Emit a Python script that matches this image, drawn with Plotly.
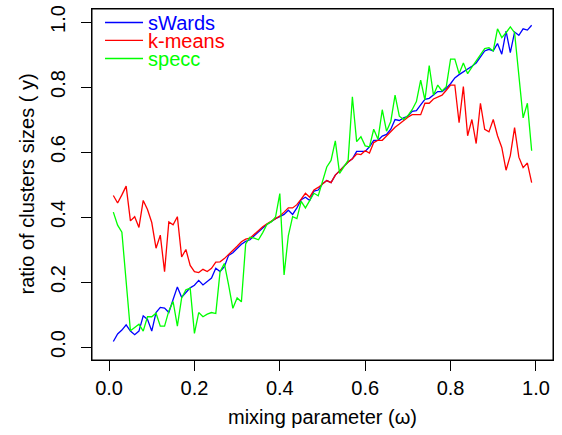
import plotly.graph_objects as go

omega = [i / 100 for i in range(1, 100)]

swards = [0.017, 0.040, 0.052, 0.068, 0.049, 0.038, 0.049, 0.096, 0.085, 0.049,
          0.106, 0.122, 0.120, 0.106, 0.146, 0.185, 0.153, 0.166, 0.182, 0.190,
          0.205, 0.191, 0.202, 0.212, 0.242, 0.232, 0.247, 0.282, 0.290, 0.303,
          0.316, 0.325, 0.330, 0.342, 0.355, 0.366, 0.377, 0.387, 0.395, 0.401,
          0.408, 0.421, 0.408, 0.428, 0.453, 0.461, 0.451, 0.480, 0.483, 0.502,
          0.512, 0.506, 0.529, 0.542, 0.556, 0.569, 0.579, 0.602, 0.602, 0.602,
          0.616, 0.636, 0.636, 0.649, 0.654, 0.670, 0.700, 0.697, 0.705, 0.710,
          0.725, 0.727, 0.745, 0.762, 0.765, 0.777, 0.786, 0.786, 0.796, 0.810,
          0.828, 0.838, 0.846, 0.856, 0.864, 0.874, 0.891, 0.911, 0.916, 0.911,
          0.934, 0.901, 0.972, 0.906, 0.969, 0.959, 0.979, 0.975, 0.990]

kmeans = [0.466, 0.443, 0.468, 0.495, 0.388, 0.401, 0.368, 0.451, 0.423, 0.383,
          0.304, 0.344, 0.232, 0.385, 0.376, 0.401, 0.277, 0.300, 0.251, 0.232,
          0.229, 0.239, 0.232, 0.242, 0.261, 0.262, 0.272, 0.284, 0.297, 0.310,
          0.324, 0.332, 0.335, 0.347, 0.360, 0.370, 0.379, 0.387, 0.397, 0.403,
          0.415, 0.428, 0.428, 0.438, 0.455, 0.473, 0.461, 0.483, 0.491, 0.503,
          0.512, 0.506, 0.529, 0.542, 0.556, 0.569, 0.579, 0.594, 0.592, 0.604,
          0.597, 0.629, 0.636, 0.636, 0.649, 0.664, 0.676, 0.686, 0.697, 0.707,
          0.715, 0.715, 0.715, 0.750, 0.750, 0.763, 0.770, 0.775, 0.790, 0.806,
          0.806, 0.690, 0.801, 0.650, 0.700, 0.626, 0.750, 0.670, 0.662, 0.700,
          0.650, 0.614, 0.544, 0.589, 0.675, 0.584, 0.552, 0.566, 0.506]

specc = [0.415, 0.375, 0.353, 0.200, 0.050, 0.060, 0.070, 0.049, 0.093, 0.093,
         0.104, 0.064, 0.064, 0.111, 0.140, 0.064, 0.151, 0.176, 0.181, 0.042,
         0.106, 0.093, 0.101, 0.106, 0.103, 0.232, 0.257, 0.191, 0.119, 0.151,
         0.139, 0.317, 0.338, 0.335, 0.330, 0.352, 0.378, 0.385, 0.400, 0.472,
         0.222, 0.343, 0.401, 0.395, 0.448, 0.428, 0.451, 0.473, 0.465, 0.506,
         0.554, 0.574, 0.634, 0.534, 0.554, 0.574, 0.770, 0.632, 0.647, 0.619,
         0.616, 0.670, 0.639, 0.730, 0.664, 0.694, 0.775, 0.710, 0.700, 0.712,
         0.730, 0.755, 0.821, 0.760, 0.866, 0.775, 0.806, 0.788, 0.801, 0.886,
         0.886, 0.841, 0.874, 0.841, 0.861, 0.881, 0.901, 0.918, 0.921, 0.911,
         0.979, 0.952, 0.967, 0.985, 0.967, 0.846, 0.705, 0.750, 0.604]

tick_vals = [0.0, 0.2, 0.4, 0.6, 0.8, 1.0]
tick_text = ["0.0", "0.2", "0.4", "0.6", "0.8", "1.0"]

FONT = "Liberation Sans, Arial, Helvetica, sans-serif"
FS = 20

series = [("sWards", swards, "#0000FF", "legend"),
          ("k-means", kmeans, "#FF0000", "legend2"),
          ("specc", specc, "#00FF00", "legend3")]

fig = go.Figure()
for name, vals, col, lg in series:
    fig.add_trace(go.Scatter(x=omega, y=vals, mode="lines", name=name,
                             line=dict(color=col, width=1.3), legend=lg))

legend_y = [0.9616, 0.9104, 0.859]
leg_cfg = {}
for key, (_, _, col, _), ly in zip(["legend", "legend2", "legend3"], series, legend_y):
    leg_cfg[key] = dict(x=0.0174, xanchor="left", yanchor="middle", y=ly,
                        bgcolor="rgba(0,0,0,0)", borderwidth=0, itemwidth=38,
                        font=dict(family=FONT, size=FS, color=col))

axis_common = dict(showgrid=False, zeroline=False, showline=True, mirror=True,
                   linecolor="black", linewidth=1, ticks="outside", ticklen=10,
                   tickcolor="black", tickwidth=1, range=[-0.04, 1.04],
                   tickvals=tick_vals, ticktext=tick_text, layer="above traces",
                   tickfont=dict(family=FONT, size=FS, color="black"))

fig.update_layout(
    width=562, height=435,
    margin=dict(l=92, r=9, t=3, b=75),
    paper_bgcolor="white", plot_bgcolor="white",
    xaxis=dict(**axis_common),
    yaxis=dict(**axis_common, tickangle=-90, ticklabelstandoff=8),
    showlegend=True,
    **leg_cfg,
)

# plot frame (R's box())
fig.add_shape(type="rect", xref="paper", yref="paper", x0=0, y0=0, x1=1, y1=1,
              line=dict(color="black", width=1), fillcolor="rgba(0,0,0,0)", layer="above")

fig.add_annotation(text="mixing parameter (\u03c9)", xref="paper", yref="paper",
                   x=0.5, y=(360 - 418) / 357, xanchor="center", yanchor="middle",
                   showarrow=False, font=dict(family=FONT, size=FS, color="black"))
fig.add_annotation(text="ratio of clusters sizes ( y)", xref="paper", yref="paper",
                   x=(26 - 92) / 461, y=0.5, xanchor="center", yanchor="middle",
                   textangle=-90, showarrow=False,
                   font=dict(family=FONT, size=FS, color="black"))

fig.write_html("out.html", config={"displayModeBar": False},
               post_script="document.body.style.margin='0px';")
